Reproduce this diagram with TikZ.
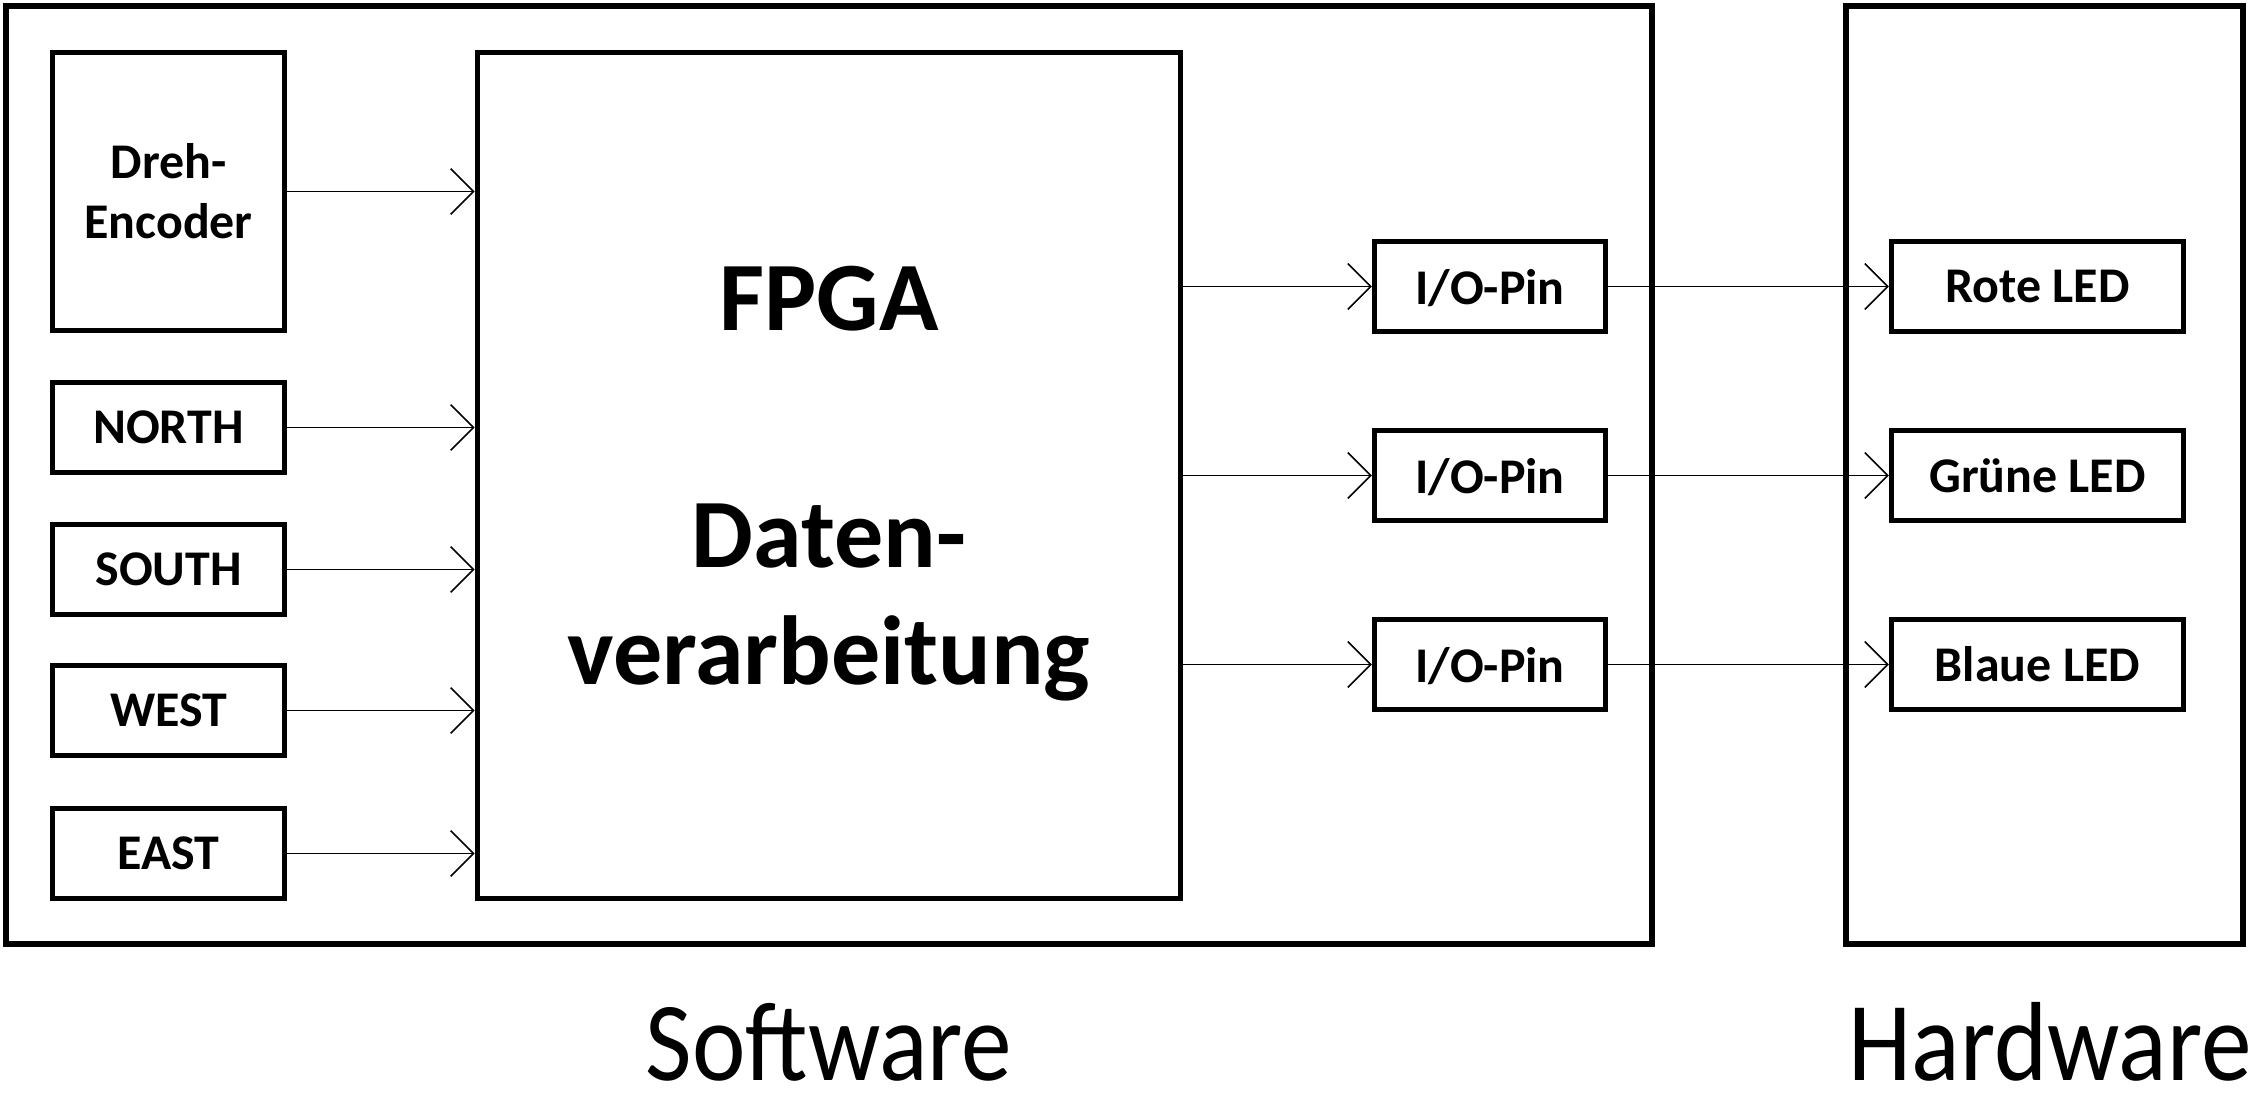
\documentclass[tikz,border=0pt]{standalone}
\usepackage{fontspec}
\setmainfont{Carlito}
\usetikzlibrary{arrows.meta}

\begin{document}
\begin{tikzpicture}[x=0.01cm,y=-0.01cm,
    frame/.style={draw,line width=1.7pt,inner sep=0pt,minimum height=9.38cm},
    block/.style={draw,line width=1.5pt,inner sep=0pt,align=center,
      font=\bfseries\fontsize{14.2pt}{17.1pt}\selectfont},
    btn/.style={block,minimum width=2.32cm,minimum height=0.9cm},
    pin/.style={block,minimum width=2.31cm,minimum height=0.9cm,text depth=0pt},
    led/.style={block,minimum width=2.92cm,minimum height=0.9cm},
    title/.style={anchor=base,inner sep=0pt,font=\fontsize{32pt}{38pt}\selectfont},
    arr/.style={-{Straight Barb[length=6.5pt,width=13pt]},line width=0.45pt}]
  \useasboundingbox (0,0) rectangle (2256,1100);
  % outer frames
  \node[frame,minimum width=16.46cm] (sw) at (829,475) {};
  \node[frame,minimum width=3.97cm] (hw) at (2044.5,475) {};
  \node[title] (swlabel) at (829,1080) {\scalebox{0.9}[1]{Software}};
  \node[title] (hwlabel) at (2050,1080) {\scalebox{0.9}[1]{Hardware}};
  % inputs
  \node[block,minimum width=2.32cm,minimum height=2.78cm] (dreh) at (168.5,191.5) {Dreh-\\Encoder};
  \node[btn] (btnN) at (168.5,427.5) {NORTH};
  \node[btn] (btnS) at (168.5,569.5) {SOUTH};
  \node[btn] (btnW) at (168.5,710.5) {WEST};
  \node[btn] (btnE) at (168.5,853.5) {EAST};
  % fpga
  \node[block,minimum width=7.03cm,minimum height=8.46cm,
    font=\bfseries\fontsize{27.9pt}{33.3pt}\selectfont] (fpga) at (829,475.5)
    {\rule{0pt}{23pt}FPGA\\[34pt]Daten-\\verarbeitung};
  % outputs
  \node[pin] (io1) at (1490,286.5) {I/O-Pin};
  \node[pin] (io2) at (1490,475.5) {I/O-Pin};
  \node[pin] (io3) at (1490,664.5) {I/O-Pin};
  \node[led] (led1) at (2037.5,286.5) {Rote LED};
  \node[led] (led2) at (2037.5,475.5) {Grüne LED};
  \node[led] (led3) at (2037.5,664.5) {Blaue LED};
  % connections
  \draw[arr] (dreh) -- (dreh -| fpga.west);
  \draw[arr] (btnN) -- (btnN -| fpga.west);
  \draw[arr] (btnS) -- (btnS -| fpga.west);
  \draw[arr] (btnW) -- (btnW -| fpga.west);
  \draw[arr] (btnE) -- (btnE -| fpga.west);
  \draw[arr] (fpga.east |- io1) -- (io1);
  \draw[arr] (fpga.east |- io2) -- (io2);
  \draw[arr] (fpga.east |- io3) -- (io3);
  \draw[arr] (io1) -- (led1);
  \draw[arr] (io2) -- (led2);
  \draw[arr] (io3) -- (led3);
\end{tikzpicture}
\end{document}
